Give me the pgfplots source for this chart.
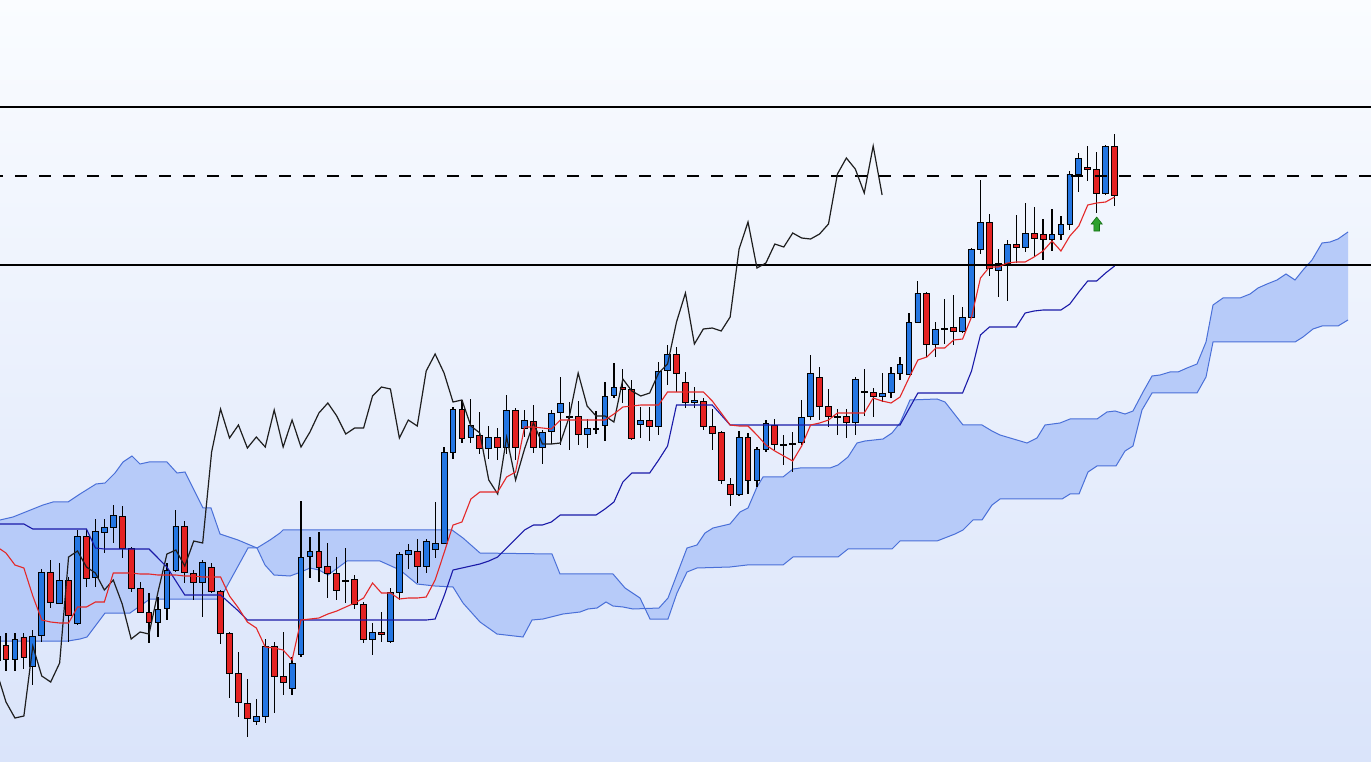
\documentclass[border=0pt]{standalone}
\usepackage{pgfplots}
\pgfplotsset{compat=1.18}
\usepackage{pgfplotstable}
\usepgfplotslibrary{fillbetween}

\definecolor{bgtop}{RGB}{250,252,255}
\definecolor{bgbot}{RGB}{218,228,250}
\definecolor{cloudfill}{RGB}{183,203,249}
\definecolor{cloudedge}{RGB}{74,112,216}
\definecolor{kijuncol}{RGB}{26,26,168}
\definecolor{tenkancol}{RGB}{228,40,40}
\definecolor{chikoucol}{RGB}{30,30,30}
\definecolor{candleup}{RGB}{36,118,226}
\definecolor{candledn}{RGB}{228,34,34}
\definecolor{arrowgreen}{RGB}{46,162,46}
\definecolor{arrowdark}{RGB}{20,110,20}

\pgfdeclareplotmark{greenup}{%
  \pgfpathmoveto{\pgfqpoint{0pt}{3.5pt}}%
  \pgfpathlineto{\pgfqpoint{2.75pt}{0pt}}%
  \pgfpathlineto{\pgfqpoint{1.4pt}{0pt}}%
  \pgfpathlineto{\pgfqpoint{1.4pt}{-3.5pt}}%
  \pgfpathlineto{\pgfqpoint{-1.4pt}{-3.5pt}}%
  \pgfpathlineto{\pgfqpoint{-1.4pt}{0pt}}%
  \pgfpathlineto{\pgfqpoint{-2.75pt}{0pt}}%
  \pgfpathclose
  \pgfusepathqfillstroke}

% candles: index, open, high, low, close (in picture rows, top = 0)
\pgfplotstableread{
i o h l c
-1 660 630 665 636
0 645 633 671 659
1 659 633 671 639
2 637 633 669 657
3 666 630 685 636
4 635 569 642 572
5 572 560 608 602
6 603 563 604 580
7 580 577 642 615
8 623 530 625 536
9 536 530 587 578
10 577 519 587 531
11 532 519 553 527
12 527 505 543 515
13 516 506 558 548
14 548 547 592 588
15 588 582 613 612
16 612 593 643 622
17 622 597 637 609
18 608 563 620 570
19 570 510 572 526
20 526 521 583 572
21 573 570 600 582
22 582 560 617 562
23 567 563 593 591
24 591 590 644 633
25 633 632 698 673
26 673 652 717 702
27 703 679 737 718
28 721 699 725 716
29 716 639 723 646
30 646 642 713 676
31 676 632 695 682
32 688 657 695 663
33 654 501 657 557
34 556 537 578 551
35 551 532 582 567
36 566 543 598 573
37 573 557 600 590
38 580 548 603 581
39 579 575 609 604
40 604 602 643 639
41 639 623 655 632
42 632 612 642 634
43 641 588 643 592
44 592 552 600 554
45 554 544 569 550
46 551 539 583 566
47 566 539 573 541
48 549 502 558 543
49 543 447 544 452
50 452 407 459 409
51 409 400 443 438
52 437 399 443 425
53 435 412 454 448
54 448 426 459 437
55 437 428 460 447
56 447 395 454 410
57 410 408 460 447
58 428 410 437 420
59 421 405 453 447
60 447 430 464 432
61 431 410 444 413
62 412 377 445 403
63 416 402 450 417
64 416 401 445 434
65 434 419 448 428
66 428 411 434 429
67 425 382 441 396
68 395 363 398 387
69 387 369 403 389
70 389 380 440 438
71 424 407 438 420
72 420 407 441 426
73 426 362 435 371
74 370 345 385 354
75 354 347 392 373
76 382 372 408 402
77 402 387 408 400
78 401 398 430 426
79 426 409 450 433
80 432 431 484 480
81 484 478 506 494
82 494 431 496 437
83 437 433 494 480
84 480 447 487 449
85 449 420 452 423
86 425 419 450 444
87 444 435 465 445
88 443 432 472 444
89 442 400 445 417
90 416 355 420 373
91 377 367 420 406
92 406 389 427 416
93 416 409 435 417
94 416 409 438 422
95 422 377 435 379
96 391 369 416 392
97 392 388 417 396
98 396 373 402 393
99 392 367 398 373
100 373 357 380 364
101 374 313 375 322
102 322 281 323 293
103 293 292 357 344
104 344 322 357 329
105 328 299 344 329
106 327 295 345 331
107 331 307 333 317
108 317 248 318 249
109 249 180 254 222
110 222 214 276 268
111 270 249 297 263
112 263 240 301 244
113 244 215 263 247
114 247 203 252 233
115 233 207 257 238
116 234 219 260 239
117 239 209 251 234
118 234 216 240 224
119 224 171 230 174
120 174 153 192 158
121 167 146 181 169
122 169 152 213 193
123 193 145 195 146
124 146 134 206 195
}\candles

% conversion line (tenkan) and base line (kijun)
\pgfplotstableread{
i t k
-1 547 524
0 553 524
1 565 524
2 568 524
3 596 529
4 620 529
5 622 529
6 623 529
7 623 529
8 607 529
9 607 529
10 602 548
11 602 549
12 573 549
13 573 549
14 573 549
15 574 549
16 574 549
17 575 558
18 575 567
19 575 581
20 576 595
21 576 595
22 577 595
23 577 595
24 577 595
25 596 603
26 608 611
27 622 620
28 628 620
29 647 620
30 648 620
31 650 620
32 660 620
33 620 620
34 619 620
35 618 620
36 614 620
37 611 620
38 607 620
39 603 620
40 598 620
41 583 620
42 593 620
43 593 620
44 599 620
45 598 620
46 598 620
47 597 620
48 580 619
49 553 596
50 525 570
51 522 568
52 499 566
53 492 564
54 492 561
55 492 557
56 477 548
57 472 539
58 427 530
59 427 525
60 428 525
61 429 522
62 420 515
63 420 515
64 420 515
65 420 515
66 420 515
67 420 509
68 414 502
69 407 482
70 406 473
71 405 473
72 405 473
73 405 460
74 392 446
75 392 405
76 392 405
77 392 405
78 392 405
79 401 405
80 413 415
81 425 425
82 426 425
83 426 425
84 435 425
85 445 425
86 451 425
87 456 425
88 461 425
89 446 425
90 425 425
91 423 425
92 420 425
93 413 425
94 413 425
95 413 425
96 413 425
97 398 425
98 401 425
99 403 425
100 397 425
101 378 409
102 360 393
103 357 393
104 348 393
105 348 393
106 340 393
107 339 393
108 317 371
109 278 335
110 267 327
111 267 327
112 263 327
113 262 327
114 262 313
115 257 311
116 251 310
117 241 310
118 251 310
119 236 304
120 226 292
121 205 281
122 203 281
123 202 273
124 197 266
}\tenkankijun

% lagging line
\pgfplotstableread{
j v
-1 673
0 702
1 718
2 716
3 646
4 676
5 682
6 663
7 557
8 551
9 567
10 573
11 590
12 580
13 604
14 639
15 632
16 634
17 592
18 554
19 550
20 566
21 541
22 543
23 452
24 409
25 438
26 425
27 448
28 437
29 447
30 410
31 447
32 420
33 447
34 432
35 413
36 403
37 416
38 434
39 428
40 428
41 396
42 387
43 389
44 438
45 420
46 426
47 371
48 354
49 373
50 402
51 400
52 426
53 433
54 480
55 494
56 437
57 480
58 449
59 423
60 444
61 444
62 443
63 417
64 373
65 406
66 416
67 416
68 422
69 379
70 391
71 396
72 393
73 373
74 364
75 322
76 293
77 344
78 329
79 328
80 331
81 317
82 249
83 222
84 268
85 263
86 244
87 247
88 233
89 238
90 239
91 234
92 224
93 174
94 158
95 169
96 193
97 146
98 195
}\chikou

% cloud spans (picture columns, rows)
\pgfplotstableread{
x y
-3 521
0 520
13 517
33 509
43 505
53 502
68 502
80 494
96 484
105 483
115 473
123 462
132 456
140 464
149 462
167 462
177 473
185 472
203 508
211 508
220 534
238 540
257 548
265 565
274 575
290 576
301 572
310 568
319 570
328 575
347 561
380 561
400 570
417 584
435 586
453 587
463 603
480 622
497 634
523 637
532 620
543 619
563 614
580 612
588 609
597 608
606 602
613 606
623 607
633 609
659 608
668 598
687 548
697 545
705 533
713 528
730 524
740 512
748 508
757 487
763 477
783 477
793 469
800 468
830 468
838 465
848 457
857 443
865 441
883 439
892 433
900 423
910 400
937 399
945 402
963 425
982 425
992 431
1000 435
1027 443
1037 438
1045 425
1060 423
1070 419
1097 419
1107 412
1115 411
1125 414
1133 411
1143 392
1152 376
1160 375
1170 372
1178 372
1187 368
1197 364
1206 342
1213 305
1223 298
1240 298
1250 294
1258 288
1267 284
1277 280
1286 274
1295 280
1303 270
1312 260
1322 243
1330 242
1338 239
1348 232
}\cloudP

\pgfplotstableread{
x y
-3 641
0 641
68 641
80 639
87 637
105 613
130 613
150 599
220 599
248 548
257 548
270 540
280 533
283 530
452 530
463 538
480 553
552 554
560 574
613 574
625 588
640 598
650 619
668 619
677 593
687 572
697 568
730 567
747 565
783 565
793 557
838 557
848 549
892 549
900 541
937 541
955 534
963 530
973 520
982 520
992 505
1000 499
1062 499
1070 494
1079 494
1088 472
1097 466
1116 466
1125 451
1133 446
1142 410
1152 393
1197 393
1206 377
1213 342
1295 342
1303 337
1313 329
1322 326
1338 326
1348 320
}\cloudQ

\pgfplotsset{chartaxis/.style={
  scale only axis, width=685.5pt, height=380.5pt,
  xmin=0, xmax=1371, ymin=0, ymax=761, y dir=reverse,
  axis line style={draw=none}, ticks=none, clip=true,
  at={(0,0)}, anchor=south west}}

\begin{document}
\begin{tikzpicture}
% layer 1: background, cloud, wicks
\begin{axis}[chartaxis, axis background/.style={shade, top color=bgtop, bottom color=bgbot}]
\addplot[name path=P, draw=none, forget plot] table[x=x, y=y] {\cloudP};
\addplot[name path=Q, draw=none, forget plot] table[x=x, y=y] {\cloudQ};
\addplot[cloudfill, draw=none, forget plot] fill between[of=P and Q];
\addplot[cloudedge, line width=0.5pt, forget plot] table[x=x, y=y] {\cloudP};
\addplot[cloudedge, line width=0.5pt, forget plot] table[x=x, y=y] {\cloudQ};
\addplot[only marks, mark=*, mark size=0pt, mark options={draw=none, fill=none}, forget plot,
  error bars/.cd, y dir=both, y explicit, error mark=none,
  error bar style={draw=black, solid, line width=0.6pt}]
  table[x expr={6+8.94*\thisrow{i}}, y expr={(\thisrow{h}+\thisrow{l})/2},
        y error expr={(\thisrow{l}-\thisrow{h})/2}] {\candles};
\end{axis}
% layer 2: candle bodies
\begin{axis}[chartaxis, ybar stacked, bar width=5.8]
\addplot[fill=none, draw=none] table[x expr={6+8.94*\thisrow{i}},
  y expr={min(\thisrow{o},\thisrow{c})}] {\candles};
\addplot[fill=candleup, draw=black, line width=0.45pt] table[x expr={6+8.94*\thisrow{i}},
  y expr={(\thisrow{c}<\thisrow{o}) ? (\thisrow{o}-\thisrow{c}) : 0}] {\candles};
\addplot[fill=candledn, draw=black, line width=0.45pt] table[x expr={6+8.94*\thisrow{i}},
  y expr={(\thisrow{c}>\thisrow{o}) ? (\thisrow{c}-\thisrow{o}) : 0}] {\candles};
\end{axis}
% layer 3: lines
\begin{axis}[chartaxis]
\addplot[black, line width=0.6pt] coordinates {(0,107) (1371,107)};
\addplot[black, line width=0.6pt] coordinates {(0,265) (1371,265)};
\addplot[black, line width=0.6pt, dash pattern=on 5.9pt off 6.1pt, dash phase=4.35pt] coordinates {(0,176) (1371,176)};
\addplot[chikoucol, line width=0.6pt] table[x expr={6+8.94*\thisrow{j}}, y=v] {\chikou};
\addplot[kijuncol, line width=0.55pt] table[x expr={6+8.94*\thisrow{i}}, y=k] {\tenkankijun};
\addplot[tenkancol, line width=0.55pt] table[x expr={6+8.94*\thisrow{i}}, y=t] {\tenkankijun};
\addplot[only marks, mark=greenup, mark options={fill=arrowgreen, draw=arrowdark, line width=0.3pt}] coordinates {(1096.7,224)};
\end{axis}
\end{tikzpicture}
\end{document}
